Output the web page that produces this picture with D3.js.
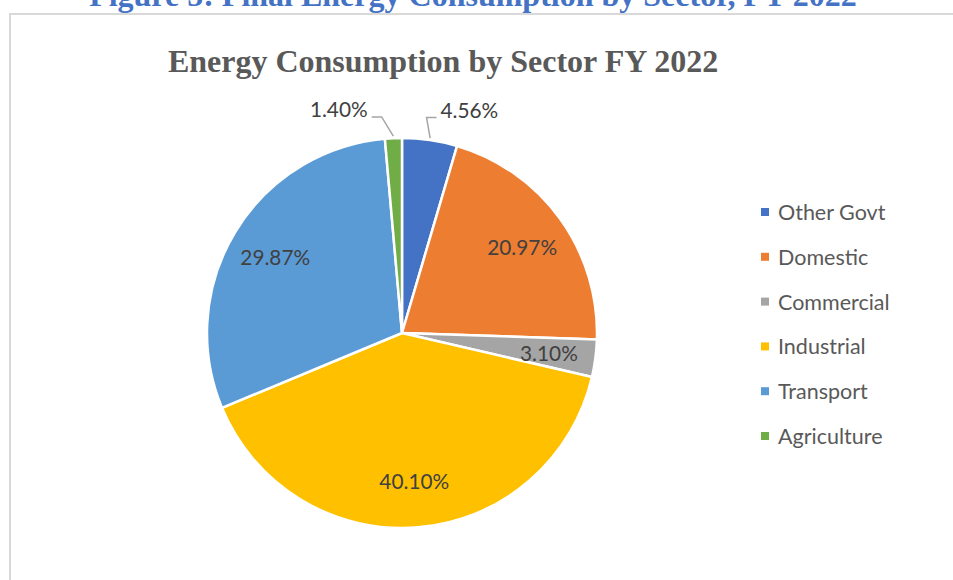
<!DOCTYPE html>
<html>
<head>
<meta charset="utf-8">
<script src="https://cdn.jsdelivr.net/npm/d3@7/dist/d3.min.js"></script>
<style>
  html, body { margin: 0; padding: 0; background: #fff; }
  svg { display: block; }
</style>
</head>
<body>
<svg id="chart" width="953" height="580"></svg>
<script>
// Sector shares of final energy consumption, FY 2022 (percent)
const sectors = ["Other Govt", "Domestic", "Commercial", "Industrial", "Transport", "Agriculture"];
const shares = [4.56, 20.97, 3.10, 40.10, 29.87, 1.40];
const colors = ["#4472c4", "#ed7d31", "#a5a5a5", "#ffc000", "#5b9bd5", "#70ad47"];
// slices too thin for an inside label get a callout
const outsideLabel = [true, false, false, false, false, true];

const figureTitle = "Figure 5: Final Energy Consumption by Sector, FY 2022";
const chartTitle = "Energy Consumption by Sector FY 2022";

const W = 953, H = 580;
const svg = d3.select("#chart");

// document caption above the chart frame
svg.append("text")
  .attr("x", 473).attr("y", 6)
  .attr("text-anchor", "middle")
  .attr("font-family", "'Liberation Serif', 'Times New Roman', serif")
  .attr("font-weight", "bold")
  .attr("font-size", 32)
  .attr("fill", "#4472c4")
  .text(figureTitle);

// chart frame (extends past the right and bottom edges)
svg.append("rect")
  .attr("x", 10).attr("y", 14)
  .attr("width", W + 20).attr("height", H + 20)
  .attr("fill", "#fff")
  .attr("stroke", "#d9d9d9")
  .attr("stroke-width", 2);

// chart title
svg.append("text")
  .attr("x", 443).attr("y", 72)
  .attr("text-anchor", "middle")
  .attr("font-family", "'Liberation Serif', 'Times New Roman', serif")
  .attr("font-weight", "bold")
  .attr("font-size", 32)
  .attr("fill", "#595959")
  .text(chartTitle);

const cx = 402, cy = 333, r = 195;
const data = sectors.map((s, i) => ({ sector: s, value: shares[i], color: colors[i], outside: outsideLabel[i] }));

const pie = d3.pie().value(d => d.value).sort(null).startAngle(0).endAngle(2 * Math.PI);
const arcs = pie(data);
const arc = d3.arc().innerRadius(0).outerRadius(r);
const labelArc = d3.arc().innerRadius(r * 0.76).outerRadius(r * 0.76);

const g = svg.append("g").attr("transform", `translate(${cx},${cy})`);

g.selectAll("path.slice")
  .data(arcs)
  .join("path")
  .attr("class", "slice")
  .attr("d", arc)
  .attr("fill", d => d.data.color)
  .attr("stroke", "#fff")
  .attr("stroke-width", 2.5)
  .attr("stroke-linejoin", "round");

const fmt = v => v.toFixed(2) + "%";
const labelFont = "Lato, 'Open Sans', sans-serif";
const labelSize = 20.8;

// inside labels
g.selectAll("text.inside")
  .data(arcs.filter(d => !d.data.outside))
  .join("text")
  .attr("class", "inside")
  .attr("transform", d => `translate(${labelArc.centroid(d)})`)
  .attr("text-anchor", "middle")
  .attr("dominant-baseline", "central")
  .attr("font-family", labelFont)
  .attr("font-size", labelSize)
  .attr("fill", "#404040")
  .text(d => fmt(d.data.value));

// callouts with leader lines
const polar = (a, rad) => [Math.sin(a) * rad, -Math.cos(a) * rad];
arcs.filter(d => d.data.outside).forEach(d => {
  const mid = (d.startAngle + d.endAngle) / 2;
  const side = Math.sin(mid) >= 0 ? 1 : -1;
  const p0 = polar(mid, r + 2);
  const p1 = polar(mid + (side < 0 ? -0.05 : -0.03), r + 22);
  const p2 = [p1[0] + side * 10, p1[1]];
  g.append("polyline")
    .attr("points", [p0, p1, p2].map(p => p.join(",")).join(" "))
    .attr("fill", "none")
    .attr("stroke", "#a6a6a6")
    .attr("stroke-width", 1.5);
  g.append("text")
    .attr("x", p2[0] + side * 4)
    .attr("y", p1[1] - 8)
    .attr("text-anchor", side > 0 ? "start" : "end")
    .attr("dominant-baseline", "central")
    .attr("font-family", labelFont)
    .attr("font-size", labelSize)
    .attr("fill", "#404040")
    .text(fmt(d.data.value));
});

// legend
const legendY = d3.scalePoint().domain(sectors).range([212, 436]);
const legend = svg.append("g");
const items = legend.selectAll("g.item")
  .data(data)
  .join("g")
  .attr("class", "item")
  .attr("transform", d => `translate(761,${legendY(d.sector)})`);
items.append("rect")
  .attr("x", 0).attr("y", -4)
  .attr("width", 8).attr("height", 8)
  .attr("fill", d => d.color);
items.append("text")
  .attr("x", 17).attr("y", 0)
  .attr("dominant-baseline", "central")
  .attr("font-family", labelFont)
  .attr("font-size", 21.5)
  .attr("fill", "#595959")
  .text(d => d.sector);
</script>
</body>
</html>
